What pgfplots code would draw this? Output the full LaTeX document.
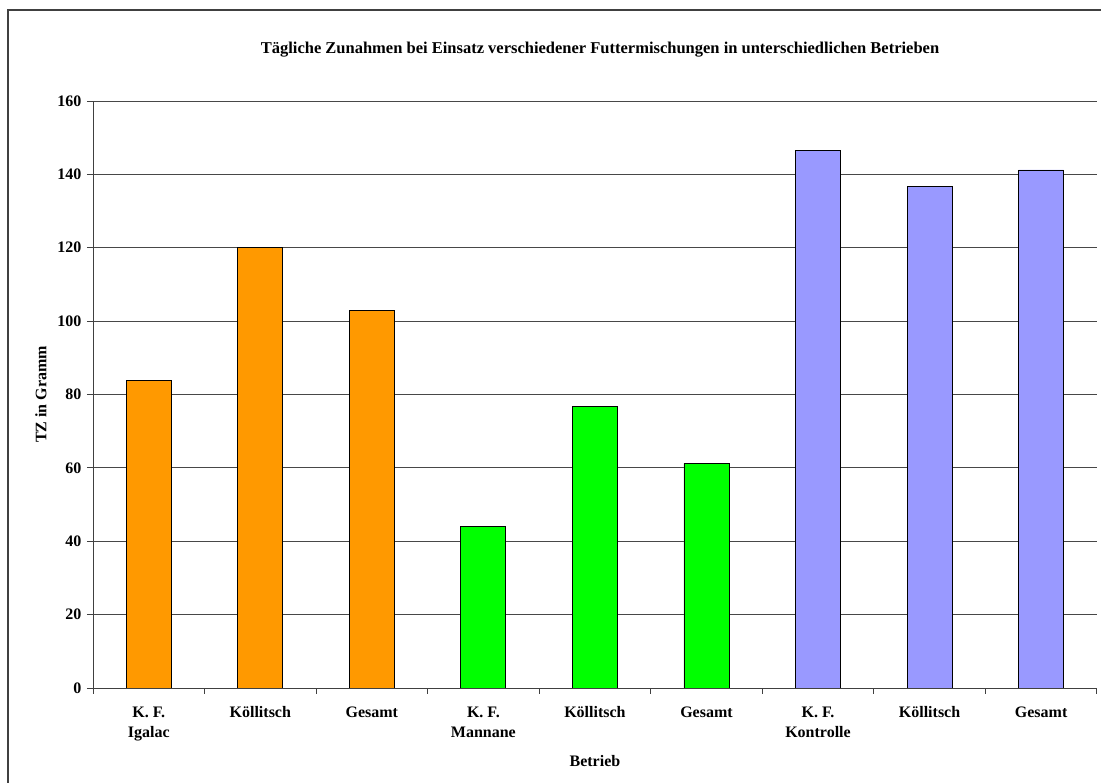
\documentclass[border=0pt]{standalone}
\usepackage{fontspec}
\setmainfont{Liberation Serif}
\usepackage{pgfplots}
\pgfplotsset{compat=1.18}
\definecolor{igalac}{HTML}{FF9900}
\definecolor{mannane}{HTML}{00FF00}
\definecolor{kontrolle}{HTML}{9999FF}
\newcommand{\lbl}{\bfseries\fontsize{16}{20}\selectfont}
\begin{document}
\begin{tikzpicture}[x=1pt,y=1pt]
\useasboundingbox (0,0) rectangle (1101,783);
% chart area frame
\draw[line width=1.2pt, black!75] (8,-20) -- (8,773) -- (1130,773);
\node[font=\bfseries\fontsize{16.5}{19}\selectfont] at (600,733) {Tägliche Zunahmen bei Einsatz verschiedener Futtermischungen in unterschiedlichen Betrieben};
\begin{axis}[
  at={(93pt,95pt)}, anchor=south west,
  scale only axis, width=1004pt, height=587pt,
  ymin=0, ymax=160, ytick={0,20,...,160},
  xmin=-0.5, xmax=8.5,
  axis lines*=left,
  axis line style={black!75, line width=0.9pt},
  ymajorgrids, grid style={black!72, line width=0.9pt},
  xtick={0,...,8},
  xticklabels={{K. F.\\Igalac},Köllitsch,Gesamt,{K. F.\\Mannane},Köllitsch,Gesamt,{K. F.\\Kontrolle},Köllitsch,Gesamt},
  major x tick style={draw=none},
  minor xtick={-0.5,0.5,...,8.5},
  minor x tick style={black!75, line width=0.9pt},
  major y tick style={black!75, line width=0.9pt},
  tick align=outside, major tick length=6pt, minor tick length=6pt,
  xticklabel style={font=\lbl, align=center, text depth=0pt, yshift=-9pt},
  yticklabel style={font=\lbl, xshift=-2pt},
  /pgf/number format/assume math mode=true,
  xlabel={\lbl Betrieb}, xlabel style={yshift=-12pt},
  ylabel={\lbl TZ in Gramm}, ylabel style={yshift=4pt},
  ybar, bar width=45pt,
]
\addplot[ybar, bar shift=0pt, fill=igalac, draw=black, line width=0.9pt]
  coordinates {(0,83.7) (1,120.1) (2,103.0)};
\addplot[ybar, bar shift=0pt, fill=mannane, draw=black, line width=0.9pt]
  coordinates {(3,44.0) (4,76.8) (5,61.2)};
\addplot[ybar, bar shift=0pt, fill=kontrolle, draw=black, line width=0.9pt]
  coordinates {(6,146.4) (7,136.7) (8,141.2)};
\end{axis}
\end{tikzpicture}
\end{document}
